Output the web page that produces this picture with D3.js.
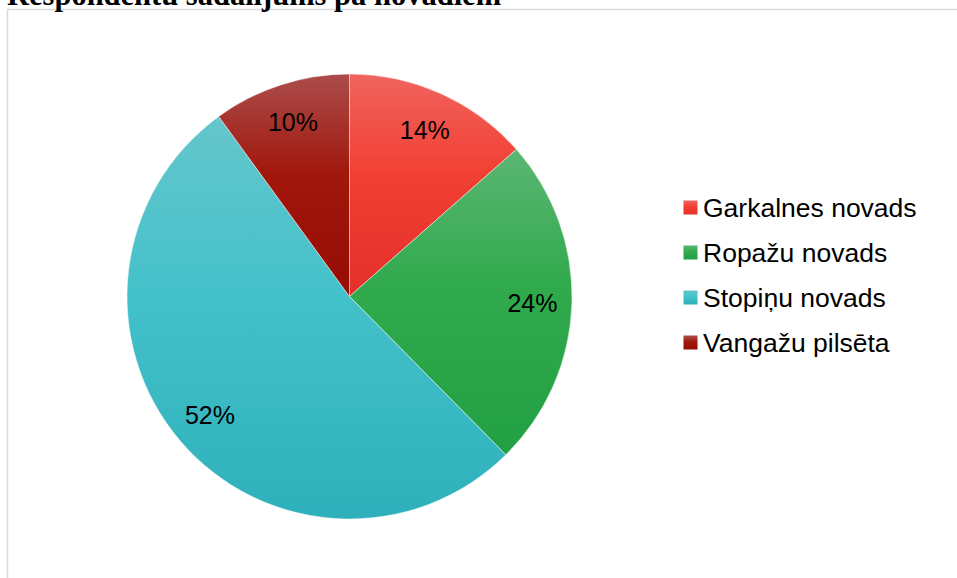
<!DOCTYPE html>
<html>
<head>
<meta charset="utf-8">
<script src="https://cdn.jsdelivr.net/npm/d3@7"></script>
<style>
  html, body { margin: 0; padding: 0; background: #ffffff; overflow: hidden; }
</style>
</head>
<body>
<svg id="chart" width="957" height="578"></svg>
<script>
const title = "Respondentu sadalījums pa novadiem";
const categories = ["Garkalnes novads", "Ropažu novads", "Stopiņu novads", "Vangažu pilsēta"];
const values = [13.5, 24.1, 52.4, 10.0];
const percentLabels = ["14%", "24%", "52%", "10%"];
const colorTop = ["#f0645e", "#5bb673", "#65c6cc", "#ab4d4b"];
const colorMid = ["#f23f33", "#30aa4d", "#43c1ca", "#a1170c"];
const colorBottom = ["#e4302a", "#22a043", "#2eb0ba", "#960c04"];

const svg = d3.select("#chart");
const W = 957, H = 578;
svg.append("rect").attr("width", W).attr("height", H).attr("fill", "#ffffff");

// chart area border (partially visible)
svg.append("rect")
  .attr("x", 7.5).attr("y", 9.5)
  .attr("width", W + 20).attr("height", H + 20)
  .attr("fill", "#ffffff")
  .attr("stroke", "#d9d9d9").attr("stroke-width", 1.5);

// title (clipped at top, as in the reference)
svg.append("text")
  .attr("x", 7).attr("y", 5)
  .attr("font-family", "'Liberation Serif', 'Times New Roman', serif")
  .attr("font-weight", "bold")
  .attr("font-size", 30.5)
  .attr("fill", "#000")
  .text(title);

const defs = svg.append("defs");
categories.forEach((c, i) => {
  const g = defs.append("linearGradient")
    .attr("id", "grad" + i)
    .attr("x1", 0).attr("y1", 0).attr("x2", 0).attr("y2", 1);
  g.append("stop").attr("offset", "0%").attr("stop-color", colorTop[i]);
  g.append("stop").attr("offset", "45%").attr("stop-color", colorMid[i]);
  g.append("stop").attr("offset", "100%").attr("stop-color", colorBottom[i]);
});

const cx = 349.5, cy = 296.5, R = 222.5;
const pie = d3.pie().sort(null).value(d => d.v).startAngle(0).endAngle(2 * Math.PI);
const data = pie(categories.map((c, i) => ({ c, v: values[i], i })));
const arc = d3.arc().innerRadius(0).outerRadius(R);
const labelArc = d3.arc().innerRadius(183).outerRadius(183);

const g = svg.append("g").attr("transform", `translate(${cx},${cy})`);
g.selectAll("path.slice")
  .data(data)
  .join("path")
  .attr("class", "slice")
  .attr("d", arc)
  .attr("fill", d => `url(#grad${d.data.i})`)
  .attr("stroke", "rgba(255,255,255,0.45)")
  .attr("stroke-width", 1);

g.selectAll("text.lbl")
  .data(data)
  .join("text")
  .attr("class", "lbl")
  .attr("transform", d => `translate(${labelArc.centroid(d)})`)
  .attr("text-anchor", "middle")
  .attr("dy", "0.36em")
  .attr("font-family", "'Liberation Sans', Arial, sans-serif")
  .attr("font-size", 25)
  .attr("fill", "#000")
  .text(d => percentLabels[d.data.i]);

// legend
const legend = svg.append("g");
const lx = 683.5, ly0 = 207.5, lstep = 45;
categories.forEach((c, i) => {
  const row = legend.append("g").attr("transform", `translate(${lx},${ly0 + i * lstep})`);
  row.append("rect")
    .attr("x", 0).attr("y", -7)
    .attr("width", 14).attr("height", 14)
    .attr("fill", `url(#grad${i})`);
  row.append("text")
    .attr("x", 19.5).attr("y", 0)
    .attr("dy", "0.36em")
    .attr("font-family", "'Liberation Sans', Arial, sans-serif")
    .attr("font-size", 26.5)
    .attr("fill", "#000")
    .text(c);
});
</script>
</body>
</html>
